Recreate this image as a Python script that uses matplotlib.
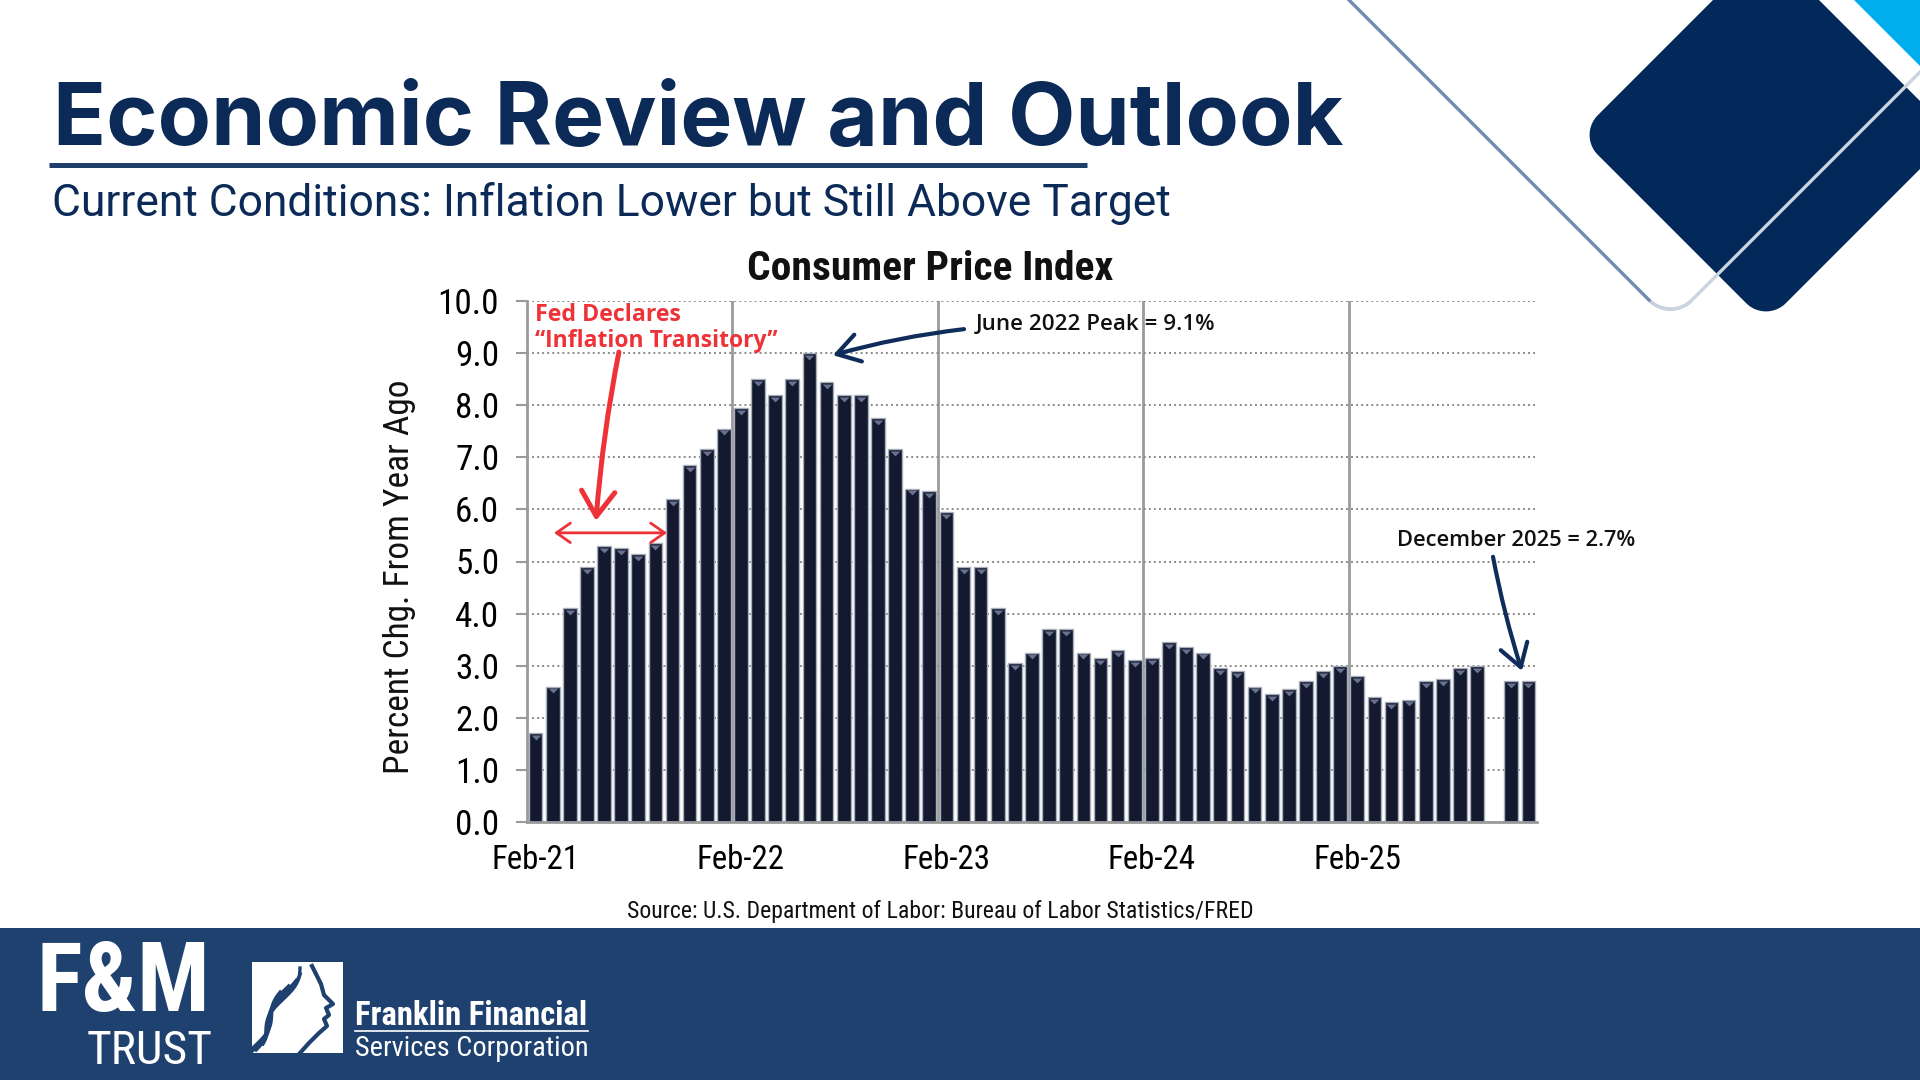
import numpy as np
import pandas as pd
import matplotlib
matplotlib.use("Agg")
import matplotlib.pyplot as plt
from matplotlib import font_manager
from matplotlib.font_manager import FontProperties
from matplotlib.collections import LineCollection
from matplotlib.patches import Rectangle, Polygon

names = {f.name for f in font_manager.fontManager.ttflist}
def pick(*cands):
    for c in cands:
        if c in names:
            return c
    return "DejaVu Sans"

ARIAL = pick("Liberation Sans")
TITLE_FONT = pick("Inter", "Lato", "Noto Sans")
SUB_FONT = pick("Roboto", "Noto Sans")
ANN_FONT = pick("Open Sans", "Noto Sans")


def _wnum(w):
    if isinstance(w, (int, float)):
        return w
    return {"bold": 700, "semibold": 600, "demibold": 600, "medium": 500,
            "heavy": 800, "black": 900, "light": 300}.get(str(w).lower(), 400)


def _is_narrow(f):
    st = f.stretch
    if "Narrow" in f.name or "Condensed" in f.name:
        return True
    if isinstance(st, str) and "condensed" in st:
        return True
    if isinstance(st, (int, float)) and st < 500:
        return True
    return False


def narrow_file(bold):
    pref = ["Liberation Sans Narrow", "Arial Narrow", "Roboto Condensed",
            "Open Sans Condensed", "Noto Sans Condensed", "Noto Sans",
            "DejaVu Sans Condensed", "DejaVu Sans"]
    best = None
    for f in font_manager.fontManager.ttflist:
        if not _is_narrow(f):
            continue
        if "italic" in str(f.style).lower() or "oblique" in str(f.style).lower():
            continue
        w = _wnum(f.weight)
        if bold and w < 600:
            continue
        if not bold and not (350 <= w <= 450):
            continue
        rank = pref.index(f.name) if f.name in pref else len(pref)
        if best is None or rank < best[0]:
            best = (rank, f.fname)
    return best[1] if best else None


NARROW_REG = narrow_file(False)
NARROW_BOLD = narrow_file(True)


def nfp(size, bold=False):
    path = NARROW_BOLD if bold else NARROW_REG
    if path:
        return FontProperties(fname=path, size=size)
    return FontProperties(family=ARIAL, weight="bold" if bold else "normal", size=size)


# ---------------- data ----------------
months = pd.date_range("2021-02-01", "2025-12-01", freq="MS")
cpi_yoy = [1.7, 2.6, 4.1, 4.9, 5.3, 5.25, 5.15, 5.35, 6.2, 6.85, 7.15, 7.55,
           7.95, 8.5, 8.2, 8.5, 9.0, 8.45, 8.2, 8.2, 7.75, 7.15, 6.4, 6.35,
           5.95, 4.9, 4.9, 4.1, 3.05, 3.25, 3.7, 3.7, 3.25, 3.15, 3.3, 3.1,
           3.15, 3.45, 3.35, 3.25, 2.95, 2.9, 2.6, 2.45, 2.55, 2.7, 2.9, 3.0,
           2.8, 2.4, 2.3, 2.35, 2.7, 2.75, 2.95, 3.0, np.nan, 2.7, 2.7]
tick_labels = ["Feb-21", "Feb-22", "Feb-23", "Feb-24", "Feb-25"]
y_ticks = [0, 1, 2, 3, 4, 5, 6, 7, 8, 9, 10]

NAVY = "#0b2a57"
BAND = "#1f4170"
RED = "#ee3338"
ARROW_NAVY = "#0f2d5a"

fig = plt.figure(figsize=(19.2, 10.8), dpi=100)
bg = fig.add_axes([0, 0, 1, 1], zorder=0)
bg.set_xlim(0, 1920)
bg.set_ylim(1080, 0)
bg.axis("off")

fits = []

# ---------------- slide header ----------------
t = bg.text(53, 145, "Economic Review and Outlook", fontsize=58, fontweight="bold",
            family=TITLE_FONT, color=NAVY, ha="left", va="baseline")
fits.append((t, 1288, "w"))
bg.plot([49, 1087], [164.5, 164.5], color="#1f3f6b", lw=3.6, solid_capstyle="butt")
t = bg.text(52, 216, "Current Conditions: Inflation Lower but Still Above Target",
            fontsize=28, family=SUB_FONT, color=NAVY, ha="left", va="baseline")
fits.append((t, 1117, "w"))


# ---------------- decoration top-right ----------------
def rdiamond(cx, cy, h, r, n=40):
    a = h / np.sqrt(2)
    pts = []
    for ccx, ccy, start in [(a - r, a - r, 0), (-(a - r), a - r, 90),
                            (-(a - r), -(a - r), 180), (a - r, -(a - r), 270)]:
        tt = np.radians(np.linspace(start, start + 90, n))
        pts += list(zip(ccx + r * np.cos(tt), ccy + r * np.sin(tt)))
    pts = np.array(pts + [pts[0]])
    xr = (pts[:, 0] - pts[:, 1]) / np.sqrt(2)
    yr = (pts[:, 0] + pts[:, 1]) / np.sqrt(2)
    return np.column_stack([cx + xr, cy + yr])


bg.add_patch(Polygon([(1854, 0), (1920, 0), (1920, 66)], closed=True,
                     fc="#00aeef", ec="none", zorder=1))
bg.add_patch(Polygon(rdiamond(1766, 135, 188, 28), closed=True,
                     fc="#03295a", ec="none", zorder=2))
op = rdiamond(1670.5, -98.5, 420, 30, n=60)
segs = np.stack([op[:-1], op[1:]], axis=1)
cols = []
c0 = np.array(matplotlib.colors.to_rgb("#3d6392"))
c1 = np.array(matplotlib.colors.to_rgb("#ccd4df"))
for s in segs:
    mx, my = s.mean(axis=0)
    f = np.clip(my / 315.0, 0, 1) if mx < 1670 else 1.0
    cols.append(c0 * (1 - f) + c1 * f)
bg.add_collection(LineCollection(segs, colors=cols, linewidths=2.4, zorder=3,
                                 capstyle="round"))

# ---------------- bottom band + logos ----------------
bg.add_patch(Rectangle((0, 928), 1920, 152, fc=BAND, ec="none", zorder=1))
t = bg.text(36, 1011, "F&M", fontproperties=nfp(50, True), color="white",
            ha="left", va="baseline", zorder=3)
fits.append((t, 174, "w"))
t = bg.text(87, 1064, "TRUST", fontproperties=nfp(24), color="white",
            ha="left", va="baseline", zorder=3)
fits.append((t, 126, "w"))
bg.add_patch(Rectangle((252, 962), 91, 91, fc="white", ec="none", zorder=3))
# stylised Franklin profile inside the white box
bg.plot([312, 321, 324, 333, 326, 329, 324, 327, 319, 309, 300],
        [966, 984, 995, 1004, 1008, 1015, 1019, 1026, 1033, 1043, 1053],
        color=BAND, lw=3, zorder=4, solid_joinstyle="round")
for k in range(5):
    tt = np.linspace(0, 1, 40)
    hx = 300 - 38 * tt + 5 * np.sin(7 * tt + k) - 4 * k
    hy = 968 + 6 * k + 70 * tt
    bg.plot(hx, hy, color=BAND, lw=2.4, zorder=4)
t = bg.text(355, 1025, "Franklin Financial", fontproperties=nfp(24, True),
            color="white", ha="left", va="baseline", zorder=3)
fits.append((t, 233, "w"))
bg.plot([355, 588], [1031, 1031], color="white", lw=1.2, zorder=3)
t = bg.text(355, 1056, "Services Corporation", fontproperties=nfp(20),
            color="white", ha="left", va="baseline", zorder=3)
fits.append((t, 233, "w"))

# ---------------- chart texts ----------------
t = bg.text(930, 280, "Consumer Price Index", fontproperties=nfp(30, True),
            color="#111111", ha="center", va="baseline")
fits.append((t, 365, "w"))
t = bg.text(399, 577, "Percent Chg. From Year Ago", fontproperties=nfp(26),
            color="#111111", ha="center", va="center", rotation=90)
fits.append((t, 394, "h"))
t = bg.text(940, 918, "Source: U.S. Department of Labor: Bureau of Labor Statistics/FRED",
            fontproperties=nfp(17), color="#111111", ha="center", va="baseline")
fits.append((t, 625, "w"))

# ---------------- chart ----------------
ax = fig.add_axes([527 / 1920, (1080 - 822) / 1080, 1010 / 1920, 521 / 1080], zorder=1)
ax.patch.set_alpha(0)
x = np.arange(len(months))
vals = np.array(cpi_yoy, dtype=float)
m = ~np.isnan(vals)
ax.bar(x[m], vals[m], width=0.8, color="#131a30", edgecolor="#a9aebb",
       linewidth=1.0, zorder=2)
tri = [(-1, 0), (1, 0), (0, -1), (-1, 0)]
ax.scatter(x[m], vals[m] - 0.035, marker=tri, s=50, color="#68718d",
           linewidths=0, zorder=3)

tick_idx = [i for i, d in enumerate(months) if d.month == 2]
for i in tick_idx[1:]:
    ax.axvline(i - 0.5, ymin=0, ymax=1, color="#9a9a9a", lw=2.0, zorder=0.5)

ax.set_xlim(-0.5, len(months) - 0.5)
ax.set_ylim(y_ticks[0], y_ticks[-1])
ax.set_yticks(y_ticks)
ax.set_yticklabels([f"{v:.1f}" for v in y_ticks], fontproperties=nfp(26))
ax.set_xticks(tick_idx)
ax.set_xticklabels(tick_labels, fontproperties=nfp(26))
ax.tick_params(axis="x", length=0, pad=16)
ax.tick_params(axis="y", length=8, width=1.5, color="#9a9a9a", pad=12)
ax.yaxis.grid(True, linestyle=(0, (1, 1.6)), color="#8a8a8a", lw=1.4)
ax.set_axisbelow(True)
for s in ["top", "right"]:
    ax.spines[s].set_visible(False)
for s in ["left", "bottom"]:
    ax.spines[s].set_color("#9a9a9a")
    ax.spines[s].set_linewidth(2.0)

# annotations (data coordinates)
t = ax.text(-0.03, 9.62, "Fed Declares", color=RED, fontweight="bold",
            family=ANN_FONT, fontsize=14, ha="left", va="baseline", clip_on=False)
fits.append((t, 147, "w"))
t = ax.text(-0.03, 9.12, "\u201cInflation Transitory\u201d", color=RED, fontweight="bold",
            family=ANN_FONT, fontsize=14, ha="left", va="baseline", clip_on=False)
fits.append((t, 243, "w"))
ax.annotate("", xy=(3.53, 5.78), xytext=(4.87, 9.02),
            arrowprops=dict(arrowstyle="->,head_length=0.9,head_width=0.6", color=RED,
                            lw=3.6, shrinkA=0, shrinkB=0, mutation_scale=20,
                            connectionstyle="arc3,rad=0.03"), annotation_clip=False)
ax.annotate("", xy=(7.68, 5.55), xytext=(1.08, 5.55),
            arrowprops=dict(arrowstyle="<->,head_length=0.5,head_width=0.35", color=RED,
                            lw=2.0, shrinkA=0, shrinkB=0, mutation_scale=20),
            annotation_clip=False)

t = ax.text(25.73, 9.44, "June 2022 Peak = 9.1%", color="#111111", fontweight="semibold",
            family=ANN_FONT, fontsize=14, ha="left", va="baseline", clip_on=False)
fits.append((t, 240, "w"))
ax.annotate("", xy=(17.37, 8.96), xytext=(25.03, 9.46),
            arrowprops=dict(arrowstyle="->,head_length=0.8,head_width=0.5", color=ARROW_NAVY,
                            lw=3.0, shrinkA=0, shrinkB=0, mutation_scale=20,
                            connectionstyle="arc3,rad=0.04"), annotation_clip=False)

t = ax.text(50.32, 5.30, "December 2025 = 2.7%", color="#111111", fontweight="semibold",
            family=ANN_FONT, fontsize=14, ha="left", va="baseline", clip_on=False)
fits.append((t, 240, "w"))
ax.annotate("", xy=(57.62, 2.90), xytext=(55.93, 5.09),
            arrowprops=dict(arrowstyle="->,head_length=0.8,head_width=0.5", color=ARROW_NAVY,
                            lw=3.0, shrinkA=0, shrinkB=0, mutation_scale=20,
                            connectionstyle="arc3,rad=0.03"), annotation_clip=False)

# fit text sizes to measured widths of the reference
renderer = fig.canvas.get_renderer()
for txt, target, mode in fits:
    bb = txt.get_window_extent(renderer)
    cur = bb.width if mode == "w" else bb.height
    if cur > 0:
        txt.set_fontsize(txt.get_fontsize() * target / cur)

# tick label sizes: "10.0" ~61 px wide, "Feb-21" ~88 px wide in the reference
ylabs = ax.get_yticklabels()
wy = ylabs[-1].get_window_extent(renderer).width
ysz = min(ylabs[-1].get_fontsize() * 61 / wy, 27) if wy > 0 else 26
for lab in ylabs:
    lab.set_fontsize(ysz)
xlabs = ax.get_xticklabels()
wx = xlabs[0].get_window_extent(renderer).width
xsz = min(xlabs[0].get_fontsize() * 88 / wx, 28) if wx > 0 else 26
for lab in xlabs:
    lab.set_fontsize(xsz)

fig.savefig("out.png", dpi=100, facecolor="white")
